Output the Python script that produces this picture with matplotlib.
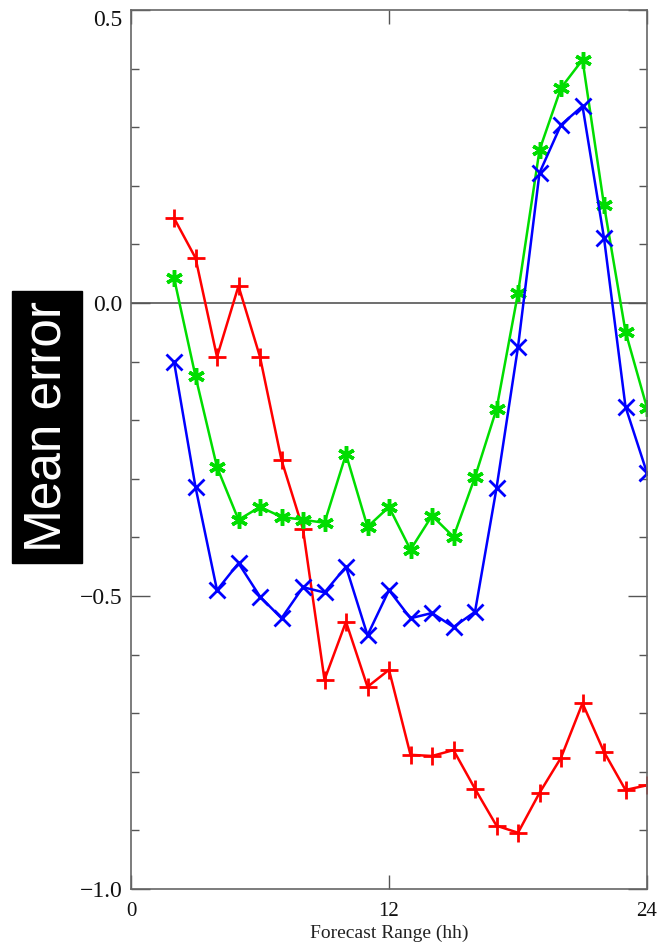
import numpy as np
import matplotlib
matplotlib.use("Agg")
import matplotlib.pyplot as plt
from matplotlib.ticker import MultipleLocator, FuncFormatter

# forecast range (hh) and the three mean error series
hours = list(range(2, 25))
red_err = [0.145, 0.077, -0.092, 0.029, -0.092, -0.268, -0.386, -0.643, -0.544,
           -0.655, -0.626, -0.771, -0.773, -0.763, -0.829, -0.892, -0.904,
           -0.836, -0.776, -0.683, -0.766, -0.831, -0.823]
green_err = [0.043, -0.125, -0.280, -0.370, -0.348, -0.365, -0.370, -0.375,
             -0.258, -0.382, -0.348, -0.421, -0.363, -0.399, -0.297, -0.181,
             0.017, 0.261, 0.367, 0.415, 0.167, -0.049, -0.179]
blue_err = [-0.100, -0.314, -0.490, -0.444, -0.501, -0.538, -0.485, -0.494,
            -0.450, -0.567, -0.490, -0.538, -0.529, -0.553, -0.527, -0.316,
            -0.075, 0.222, 0.304, 0.336, 0.111, -0.177, -0.290]

fig = plt.figure(figsize=(6.58, 9.49), dpi=100)
ax = fig.add_axes([131 / 658, 1 - 889 / 949, 516 / 658, 879 / 949])

ax.axhline(0.0, color="#555555", lw=1.2, zorder=1)

ax.plot(hours, red_err, color="#ff0000", lw=1.8, marker="+", ms=13, mew=2)
ax.plot(hours, green_err, color="#00dd00", lw=1.8, marker=(6, 2, 0), ms=12, mew=2.5)
ax.plot(hours, blue_err, color="#0000ff", lw=1.8, marker="x", ms=12, mew=2)

ax.set_xlim(0, 24)
ax.set_ylim(-1.0, 0.5)
ax.set_xticks([0, 12, 24])
ax.yaxis.set_major_locator(MultipleLocator(0.5))
ax.yaxis.set_minor_locator(MultipleLocator(0.1))
ax.yaxis.set_major_formatter(FuncFormatter(lambda v, p: ("%.1f" % v).replace("-", "\u2212")))

serif = "Liberation Serif"
ax.tick_params(axis="both", which="both", direction="in", top=True, right=True,
               color="#555555")
ax.tick_params(axis="y", which="major", length=14, width=1, pad=6)
ax.tick_params(axis="y", which="minor", length=6, width=1)
ax.tick_params(axis="x", which="major", length=10, width=1, pad=9)

fig.canvas.draw()
for lab in ax.get_xticklabels():
    lab.set_family(serif)
    lab.set_fontsize(15)
    lab.set_color("#111111")
for lab in ax.get_yticklabels():
    lab.set_family(serif)
    lab.set_fontsize(17)
    lab.set_color("#111111")
    if lab.get_text() == "0.5":
        lab.set_va("top")

for sp in ax.spines.values():
    sp.set_color("#666666")
    sp.set_linewidth(1.2)

ax.set_xlabel("Forecast Range (hh)", family=serif, fontsize=14, color="#222222",
              labelpad=3)

fig.text(47 / 658, 1 - 427 / 949, "Mean error", rotation=90, family="Liberation Sans",
         fontsize=37, color="white", ha="center", va="center",
         bbox=dict(boxstyle="square,pad=0.2", fc="black", ec="black"))

fig.savefig("out.png", dpi=100)
